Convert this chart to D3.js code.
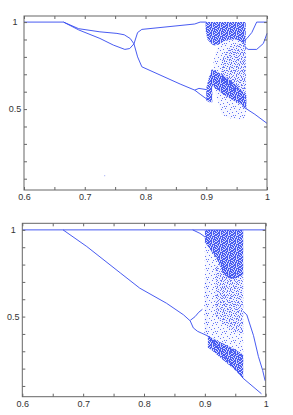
<!DOCTYPE html>
<html>
<head>
<meta charset="utf-8">
<script src="https://cdn.jsdelivr.net/npm/d3@7"></script>
<style>
  body { margin: 0; background: #fff; }
  svg { display: block; }
  .tick text { font-family: "Liberation Sans", Arial, sans-serif; font-size: 9px; fill: #333; }
</style>
</head>
<body>
<div id="chart"></div>
<script>
// tick values / labels
var xTicks = [0.6, 0.65, 0.7, 0.75, 0.8, 0.85, 0.9, 0.95, 1.0];
var xLabels = ["0.6", "", "0.7", "", "0.8", "", "0.9", "", "1"];
var yTicks = [0.1, 0.2, 0.3, 0.4, 0.5, 0.6, 0.7, 0.8, 0.9, 1.0];
var yLabels = ["", "", "", "", "0.5", "", "", "", "", "1"];

// top panel: branches [r, x]
var p1Flat = [[0.6, 1.0], [0.665, 1.0]];
var p1BranchA = [[0.665, 1.0], [0.69, 0.962], [0.725, 0.944], [0.753, 0.935], [0.765, 0.927], [0.775, 0.905],
  [0.781, 0.875], [0.787, 0.8], [0.794, 0.743], [0.857, 0.644], [0.881, 0.609], [0.89, 0.585], [0.903, 0.552]];
var p1BranchB = [[0.665, 1.0], [0.69, 0.955], [0.725, 0.906], [0.747, 0.868], [0.766, 0.843], [0.774, 0.848],
  [0.781, 0.875], [0.787, 0.94], [0.794, 0.958], [0.881, 0.989], [0.89, 1.0], [0.9, 1.0]];
var p1Twig = [[0.881, 0.609], [0.888, 0.619], [0.9, 0.612]];
var p1RightLow = [[0.961, 0.513], [0.98, 0.47], [1.0, 0.418]];
var p1RightTop = [[0.962, 0.89], [0.967, 0.906], [0.975, 0.94], [0.983, 1.0], [1.0, 1.0]];
var p1RightLoop = [[0.963, 0.86], [0.969, 0.843], [0.983, 0.843], [0.994, 0.877], [1.0, 0.935]];
var p1Stray = [[0.732, 0.12]];

// top panel: chaotic bands [r, xLow, xHigh]
var p1DenseTop = [[0.899, 0.95, 1.0], [0.902, 0.9, 1.0], [0.907, 0.88, 1.0], [0.912, 0.865, 1.0], [0.92, 0.87, 1.0],
  [0.93, 0.89, 1.0], [0.94, 0.9, 1.0], [0.95, 0.9, 1.0], [0.96, 0.88, 1.0], [0.965, 0.86, 1.0]];
var p1Sparse = [[0.912, 0.62, 0.78], [0.918, 0.56, 0.85], [0.925, 0.47, 0.88], [0.935, 0.45, 0.9],
  [0.95, 0.44, 0.9], [0.962, 0.44, 0.88], [0.966, 0.47, 0.86]];
var p1Medium = [[0.925, 0.66, 0.78], [0.94, 0.64, 0.86], [0.955, 0.6, 0.88], [0.965, 0.58, 0.86]];
var p1DenseLow = [[0.908, 0.64, 0.73], [0.915, 0.62, 0.72], [0.93, 0.58, 0.69], [0.945, 0.55, 0.65],
  [0.96, 0.52, 0.6], [0.966, 0.5, 0.58]];
var p1Spiky = [[0.9, 0.55, 0.62], [0.905, 0.54, 0.69], [0.91, 0.54, 0.72]];

// bottom panel: branches
var p2Top = [[0.6, 1.0], [1.0, 1.0]];
var p2Desc = [[0.667, 1.0], [0.706, 0.904], [0.761, 0.752], [0.793, 0.664], [0.837, 0.577], [0.865, 0.51],
  [0.876, 0.475], [0.881, 0.435], [0.888, 0.415], [0.895, 0.404], [0.905, 0.388], [0.963, 0.144], [0.993, 0.055]];
var p2Twig = [[0.876, 0.478], [0.884, 0.5], [0.89, 0.525], [0.896, 0.542]];
var p2TopTwig = [[0.88, 1.0], [0.892, 0.98], [0.9, 0.96]];
var p2RightDesc = [[0.963, 0.53], [0.969, 0.51], [0.98, 0.39], [0.988, 0.27], [0.995, 0.19], [0.999, 0.13]];

// bottom panel: chaotic bands
var p2DenseTop = [[0.9, 0.93, 1.0], [0.91, 0.88, 1.0], [0.92, 0.83, 1.0], [0.93, 0.75, 1.0],
  [0.94, 0.72, 1.0], [0.95, 0.72, 1.0], [0.963, 0.74, 1.0]];
var p2Sparse = [[0.9, 0.4, 0.97], [0.91, 0.36, 0.92], [0.93, 0.3, 0.8], [0.95, 0.26, 0.75], [0.963, 0.24, 0.75]];
var p2Medium = [[0.918, 0.5, 0.8], [0.93, 0.46, 0.76], [0.945, 0.42, 0.73], [0.963, 0.4, 0.74]];
var p2DenseLow = [[0.905, 0.32, 0.39], [0.91, 0.31, 0.38], [0.93, 0.25, 0.345], [0.95, 0.19, 0.31], [0.963, 0.145, 0.28]];
var p2Streak = [[0.899, 0.4, 0.7], [0.905, 0.39, 0.72]];

var blue = "#3348ef";

var svg = d3.select("#chart").append("svg")
    .attr("width", 293)
    .attr("height", 415);

// stipple tiles (hand placed pixels)
var denseTile = [
  "#.##.#.#",
  ".###.##.",
  "##.#.#.#",
  "#.##..##",
  ".##.###.",
  "#.#.#.##",
  "##.##.#.",
  ".#.#.###"];
var mediumTile = [
  "#..#...",
  "....#.#",
  ".#.....",
  "...#..#",
  "#....#.",
  "..#....",
  ".....#."];
var sparseTile = [
  "#........",
  ".....#...",
  ".........",
  "..#......",
  ".......#.",
  "....#....",
  ".........",
  ".#......#",
  "......#.."];

var defs = svg.append("defs");
function stipple(id, rows, op, base) {
  var n = rows.length;
  var p = defs.append("pattern")
      .attr("id", id)
      .attr("patternUnits", "userSpaceOnUse")
      .attr("width", n).attr("height", n);
  p.append("rect").attr("width", n).attr("height", n).attr("fill", blue).attr("fill-opacity", base);
  rows.forEach(function(row, j) {
    row.split("").forEach(function(c, i) {
      if (c === "#") p.append("rect").attr("x", i).attr("y", j).attr("width", 1).attr("height", 1)
        .attr("fill", blue).attr("fill-opacity", op).attr("shape-rendering", "crispEdges");
    });
  });
}
stipple("dense", denseTile, 0.85, 0.2);
stipple("medium", mediumTile, 0.7, 0.03);
stipple("sparse", sparseTile, 0.75, 0.04);

function panel(cfg) {
  var x = d3.scaleLinear().domain([0.6, 1.0]).range(cfg.xr);
  var y = d3.scaleLinear().domain(cfg.yd).range(cfg.yr);
  var g = svg.append("g");

  var area = d3.area()
    .x(d => x(d[0]))
    .y0(d => y(d[1]))
    .y1(d => y(d[2]));

  cfg.bands.forEach(function(b) {
    g.append("path").datum(b.data)
      .attr("d", area)
      .attr("fill", "url(#" + b.fill + ")");
  });

  var line = d3.line()
    .x(d => x(d[0]))
    .y(d => y(d[1]));

  cfg.lines.forEach(function(l) {
    g.append("path").datum(l)
      .attr("d", line)
      .attr("fill", "none")
      .attr("stroke", blue)
      .attr("stroke-width", 0.9);
  });

  (cfg.dots || []).forEach(function(d) {
    g.append("rect").attr("x", x(d[0])).attr("y", y(d[1])).attr("width", 1).attr("height", 1)
      .attr("fill", blue).attr("fill-opacity", 0.5);
  });

  var x0 = cfg.xr[0], x1 = cfg.xr[1], y0 = cfg.yr[0], y1 = cfg.yr[1];

  g.append("g")
      .attr("transform", "translate(0," + y0 + ")")
      .call(d3.axisBottom(x).tickValues(xTicks).tickSize(-3).tickPadding(4)
        .tickFormat((d, i) => xLabels[i]));
  g.append("g")
      .attr("transform", "translate(0," + y1 + ")")
      .call(d3.axisTop(x).tickValues(xTicks).tickSize(-3).tickFormat(""));
  var left = g.append("g")
      .attr("transform", "translate(" + x0 + ",0)")
      .call(d3.axisLeft(y).tickValues(yTicks).tickSize(-3).tickPadding(4)
        .tickFormat((d, i) => yLabels[i]));
  g.append("g")
      .attr("transform", "translate(" + x1 + ",0)")
      .call(d3.axisRight(y).tickValues(yTicks).tickSize(-3).tickFormat(""));

  left.selectAll("text").attr("text-anchor", "middle").attr("x", -9);
  g.selectAll(".domain").remove();
  g.selectAll(".tick line").attr("stroke", "#666");

  g.append("rect")
    .attr("x", x0).attr("y", y1)
    .attr("width", x1 - x0).attr("height", y0 - y1)
    .attr("fill", "none").attr("stroke", "#666").attr("stroke-width", 1);
}

panel({
  xr: [24, 267], yd: [0.035, 1.035], yr: [190, 16],
  bands: [
    {data: p1Sparse, fill: "sparse"},
    {data: p1Medium, fill: "medium"},
    {data: p1DenseTop, fill: "dense"},
    {data: p1DenseLow, fill: "dense"},
    {data: p1Spiky, fill: "dense"}
  ],
  lines: [p1Flat, p1BranchA, p1BranchB, p1Twig, p1RightLow, p1RightTop, p1RightLoop],
  dots: p1Stray
});

panel({
  xr: [22.3, 265.7], yd: [0.038, 1.038], yr: [396.7, 223.3],
  bands: [
    {data: p2Sparse, fill: "sparse"},
    {data: p2Medium, fill: "medium"},
    {data: p2DenseTop, fill: "dense"},
    {data: p2DenseLow, fill: "dense"},
    {data: p2Streak, fill: "sparse"}
  ],
  lines: [p2Top, p2Desc, p2Twig, p2TopTwig, p2RightDesc]
});
</script>
</body>
</html>
